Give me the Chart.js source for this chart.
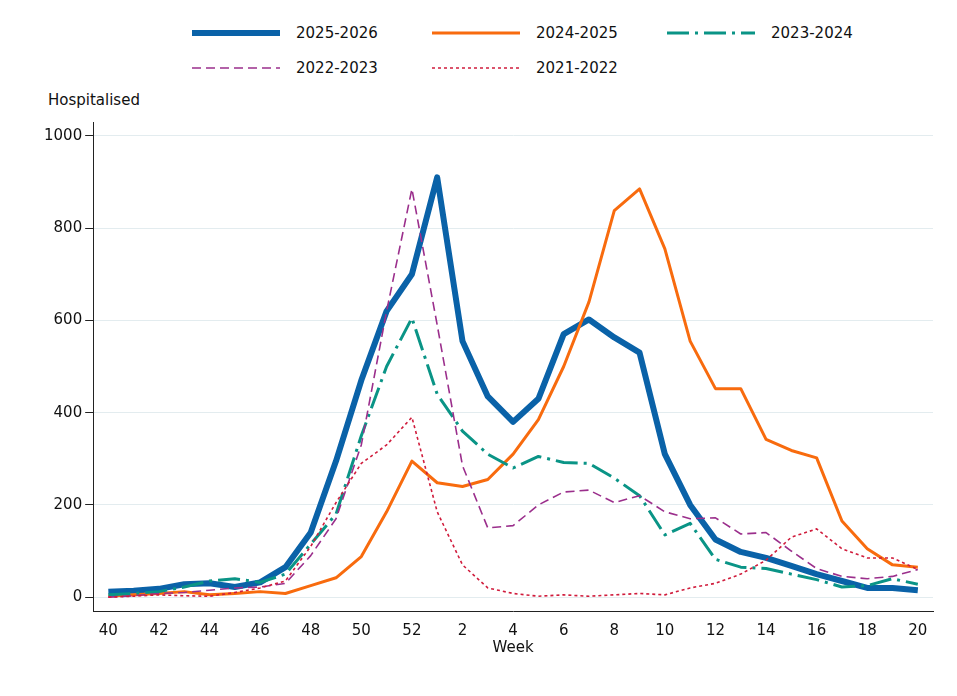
<!DOCTYPE html>
<html><head><meta charset="utf-8">
<script src="https://cdn.jsdelivr.net/npm/chart.js@4"></script>
<style>
body{margin:0;background:#fff;font-family:"DejaVu Sans",sans-serif;}
#wrap{position:relative;width:957px;height:696px;}
#legend{position:absolute;left:190px;top:24px;width:700px;font-size:15px;color:#111;}
.item{position:absolute;display:flex;align-items:center;}
.item svg{margin-right:14px;}
#ytitle{position:absolute;left:48px;top:91px;font-size:15px;color:#111;}
canvas{position:absolute;left:0;top:0;}
</style></head><body>
<div id="wrap">
<div id="legend"></div>
<div id="ytitle">Hospitalised</div>
<canvas id="c" width="957" height="696"></canvas>
</div>
<script>
var weeks = [40,41,42,43,44,45,46,47,48,49,50,51,52,1,2,3,4,5,6,7,8,9,10,11,12,13,14,15,16,17,18,19,20];
var s2025 = [12,14,18,28,30,22,32,65,140,295,470,620,700,910,555,435,380,430,570,602,563,530,310,200,125,98,85,68,50,35,20,20,15];
var s2024 = [2,5,8,12,5,8,12,8,25,42,88,185,295,248,240,255,310,385,500,640,838,885,755,555,452,452,342,318,302,165,105,70,65];
var s2023 = [5,8,12,22,35,40,32,50,115,180,350,500,605,440,360,310,280,305,292,290,258,220,135,160,82,65,62,50,38,22,25,40,28];
var s2022 = [0,3,8,10,15,20,22,30,90,170,330,620,885,590,285,150,155,200,228,232,205,220,185,170,172,137,140,100,62,45,40,45,60];
var s2021 = [0,2,5,3,2,10,20,35,110,205,290,330,390,185,70,20,8,2,5,2,5,8,5,20,30,50,80,130,148,105,85,85,60];
var yTicks = [0,200,400,600,800,1000];

var series = [
  {label:"2025-2026", data:s2025, color:"#0a62a8", width:6, dash:[]},
  {label:"2024-2025", data:s2024, color:"#f86b0e", width:3, dash:[]},
  {label:"2023-2024", data:s2023, color:"#0a9486", width:3, dash:[22,6,3,6]},
  {label:"2022-2023", data:s2022, color:"#9b2f8c", width:1.6, dash:[9,5]},
  {label:"2021-2022", data:s2021, color:"#d01c3c", width:1.6, dash:[3,3]}
];
var pos = [[0,0],[240,0],[475,0],[0,35],[240,35]];
var leg = document.getElementById("legend");
series.forEach(function(s,i){
  var d = document.createElement("div"); d.className="item";
  d.style.left=pos[i][0]+"px"; d.style.top=pos[i][1]+"px";
  d.innerHTML='<svg width="92" height="12"><line x1="2" y1="6" x2="90" y2="6" stroke="'+s.color+'" stroke-width="'+s.width+'" stroke-dasharray="'+s.dash.join(",")+'"/></svg>'+s.label;
  leg.appendChild(d);
});

new Chart("c", {
  type: "line",
  data: {
    datasets: series.map(function(s){
      return {label:s.label, data:s.data.map(function(v,i){return {x:i,y:v};}),
        borderColor:s.color, borderWidth:s.width, borderDash:s.dash,
        pointRadius:0, fill:false, tension:0, borderJoinStyle:"round"};
    }).reverse()
  },
  options: {
    responsive:false, animation:false,
    layout:{padding:{left:41,right:24,top:122,bottom:35}},
    plugins:{legend:{display:false}, tooltip:{enabled:false}},
    scales:{
      x:{type:"linear", min:-0.6, max:32.6,
        afterBuildTicks:function(ax){ax.ticks=[];for(var i=0;i<=32;i+=2)ax.ticks.push({value:i});},
        ticks:{callback:function(v){return weeks[v];}, color:"#111", font:{family:"DejaVu Sans",size:15}, maxRotation:0, autoSkip:false},
        grid:{display:false, drawTicks:true},
        border:{color:"#222"},
        title:{display:true, text:"Week", color:"#111", font:{family:"DejaVu Sans",size:15}, padding:{top:-4}}
      },
      y:{min:-30, max:1030,
        afterBuildTicks:function(ax){ax.ticks=yTicks.map(function(v){return {value:v};});},
        ticks:{callback:function(v){return String(v);}, color:"#111", font:{family:"DejaVu Sans",size:15}},
        grid:{color:"#e3ecef", drawTicks:true, tickColor:"#222"},
        border:{color:"#222"}
      }
    }
  }
});
</script>
</body></html>
